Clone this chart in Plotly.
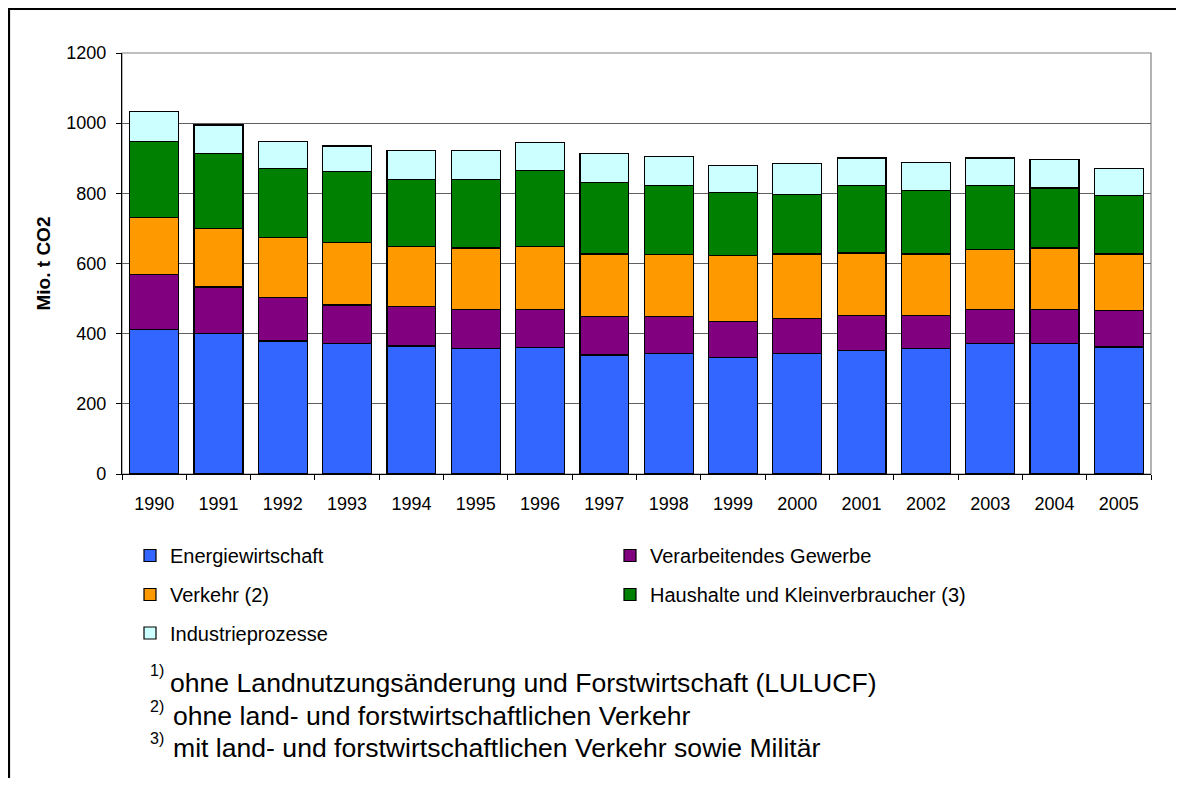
import plotly.graph_objects as go

years = [str(y) for y in range(1990, 2006)]
energie = [413, 400, 379, 371, 365, 357, 361, 339, 344, 332, 344, 353, 358, 371, 371, 362]
gewerbe = [155, 133, 125, 111, 112, 111, 107, 109, 104, 103, 99, 99, 94, 98, 98, 103]
verkehr = [162, 166, 170, 179, 171, 176, 180, 179, 178, 188, 184, 178, 175, 170, 175, 162]
haushalte = [217, 215, 196, 201, 192, 196, 218, 205, 197, 179, 170, 193, 181, 184, 171, 166]
industrie = [86, 81, 77, 73, 82, 82, 78, 82, 82, 77, 87, 78, 80, 78, 81, 77]

series_names = ["Energiewirtschaft", "Verarbeitendes Gewerbe", "Verkehr (2)",
                "Haushalte und Kleinverbraucher (3)", "Industrieprozesse"]
series_vals = [energie, gewerbe, verkehr, haushalte, industrie]
colors = ["#3366FF", "#800080", "#FF9900", "#008000", "#CCFFFF"]
y_ticks = [0, 200, 400, 600, 800, 1000, 1200]
footnotes = ["ohne Landnutzungsänderung und Forstwirtschaft (LULUCF)",
             "ohne land- und forstwirtschaftlichen Verkehr",
             "mit land- und forstwirtschaftlichen Verkehr sowie Militär"]
foot_marks = ["1)", "2)", "3)"]

# The page body has an 8px margin; figure is sized to fit the window exactly.
OFF = 8
W, H = 1184 - 2 * OFF, 786 - 2 * OFF
# plot area in screenshot pixels: x 122..1151, y 53..474
L, R, T, B = 122 - OFF, W - (1151 - OFF), 53 - OFF, H - (474 - OFF)
PW, PH = W - L - R, H - T - B


def px(xs):
    return (xs - OFF - L) / PW


def py(ys):
    return (H - B - (ys - OFF)) / PH


FONT = "Liberation Sans, Arial, sans-serif"

fig = go.Figure()
legend_ids = ["legend", "legend2", "legend3", "legend4", "legend5"]
for name, vals, col, lg in zip(series_names, series_vals, colors, legend_ids):
    fig.add_trace(go.Bar(x=years, y=vals, name=name, legend=lg,
                         marker=dict(color=col, line=dict(color="black", width=1.2))))

# legend positions (screenshot pixels): left edge, row center
leg_pos = [(130, 555.5), (610, 555.5), (130, 594.5), (610, 594.5), (130, 633)]
legend_layouts = {}
for lg, (lx, ly) in zip(legend_ids, leg_pos):
    legend_layouts[lg] = dict(x=px(lx), y=py(ly), xanchor="left", yanchor="middle",
                              xref="paper", yref="paper", bgcolor="rgba(0,0,0,0)",
                              font=dict(family=FONT, size=20, color="black"),
                              itemwidth=30, borderwidth=0)

annotations = [dict(text="<b>Mio. t CO2</b>", textangle=-90, x=px(43), y=py(263.5),
                    xref="paper", yref="paper", showarrow=False,
                    font=dict(family=FONT, size=19, color="black"),
                    xanchor="center", yanchor="middle")]
foot_y = [683, 716, 748]
mark_y = [670, 707, 738]
text_x = [168, 171, 171]
for fn, fm, fy, my, tx in zip(footnotes, foot_marks, foot_y, mark_y, text_x):
    annotations.append(dict(text=fm, x=px(148), y=py(my), xref="paper", yref="paper",
                            showarrow=False, xanchor="left", yanchor="middle",
                            font=dict(family=FONT, size=16, color="black")))
    annotations.append(dict(text=fn, x=px(tx), y=py(fy), xref="paper", yref="paper",
                            showarrow=False, xanchor="left", yanchor="middle",
                            font=dict(family=FONT, size=26.6, color="black")))

shapes = [
    # plot area border
    dict(type="rect", xref="paper", yref="paper", x0=0, x1=1, y0=0, y1=1,
         line=dict(color="#808080", width=1.2), layer="below"),
    # outer chart frame (top and left edges visible)
    dict(type="rect", xref="paper", yref="paper", x0=px(9), x1=px(1220), y0=py(830), y1=py(9),
         line=dict(color="black", width=2.2)),
]

fig.update_layout(
    width=W, height=H,
    margin=dict(l=L, r=R, t=T, b=B, autoexpand=False),
    paper_bgcolor="white", plot_bgcolor="white",
    barmode="stack", bargap=0.24,
    font=dict(family=FONT, size=18, color="black"),
    annotations=annotations, shapes=shapes,
    showlegend=True,
    **legend_layouts,
)
fig.update_xaxes(type="category", showline=True, linecolor="black", linewidth=1.2,
                 ticks="outside", tickson="boundaries", ticklen=5, tickcolor="black",
                 ticklabelstandoff=13,
                 tickfont=dict(family=FONT, size=18, color="black"), showgrid=False)
fig.update_yaxes(range=[0, 1200], tickvals=y_ticks, showline=True, linecolor="black",
                 linewidth=1.2, ticks="outside", ticklen=5, tickcolor="black",
                 ticklabelstandoff=6,
                 tickfont=dict(family=FONT, size=18, color="black"),
                 showgrid=True, gridcolor="#606060", gridwidth=1, zeroline=False)

fig.write_html("out.html")
